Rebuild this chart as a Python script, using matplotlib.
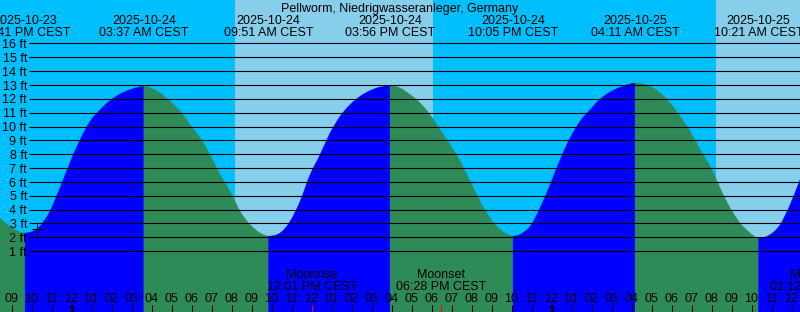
import numpy as np
import matplotlib
matplotlib.use("Agg")
import matplotlib.pyplot as plt
from matplotlib.path import Path
from matplotlib.patches import PathPatch

# tide curve, hours from midnight 2025-10-24 CEST
tide_hours = [-3.58, -3.08, -2.58, -2.32, -1.93, -1.58, -1.08, -0.58, -0.08, 0.43,
              0.93, 1.43, 1.93, 2.43, 2.93, 3.62, 4.43, 4.93, 5.43, 5.93,
              6.43, 6.93, 7.43, 7.93, 8.43, 8.93, 9.43, 9.85, 10.43, 10.93,
              11.43, 11.93, 12.43, 12.93, 13.43, 13.93, 14.43, 14.93, 15.43, 15.93,
              16.43, 16.93, 17.43, 17.93, 18.43, 18.93, 19.43, 19.93, 20.43, 20.93,
              21.43, 21.93, 22.08, 22.43, 22.93, 23.43, 23.93, 24.43, 24.93, 25.43,
              25.93, 26.43, 26.93, 27.43, 27.93, 28.18, 28.93, 29.43, 29.93, 30.43,
              30.93, 31.43, 31.93, 32.43, 32.93, 33.43, 33.93, 34.35, 34.93, 35.43,
              35.93, 36.43]
tide_ft = [3.39, 2.79, 2.38, 2.31, 2.43, 2.79, 3.87, 5.56, 7.36, 9.05,
           10.37, 11.21, 11.87, 12.35, 12.66, 12.90, 12.42, 11.82, 11.10, 10.13,
           9.17, 7.96, 6.52, 5.32, 3.87, 2.91, 2.31, 2.09, 2.31, 3.15,
           4.60, 6.52, 7.96, 9.53, 10.73, 11.58, 12.18, 12.59, 12.85, 12.95,
           12.78, 12.30, 11.70, 10.85, 9.77, 8.69, 7.49, 6.04, 4.60, 3.39,
           2.55, 2.14, 2.09, 2.20, 2.79, 4.12, 5.80, 7.60, 9.17, 10.37,
           11.21, 11.97, 12.49, 12.83, 13.07, 13.14, 12.90, 12.42, 11.70, 10.73,
           9.65, 8.32, 7.13, 5.56, 4.12, 3.03, 2.31, 1.95, 2.19, 2.91,
           4.35, 6.16]

# high / low tides
event_hours = [-2.32, 3.62, 9.85, 15.93, 22.08, 28.18, 34.35]
event_kind = ["low", "high", "low", "high", "low", "high", "low"]
event_dates = ["2025-10-23", "2025-10-24", "2025-10-24", "2025-10-24",
               "2025-10-24", "2025-10-25", "2025-10-25"]
event_times = ["09:41 PM CEST", "03:37 AM CEST", "09:51 AM CEST", "03:56 PM CEST",
               "10:05 PM CEST", "04:11 AM CEST", "10:21 AM CEST"]

# daylight
sunrise_hours = [8.17, 32.23]
sunset_hours = [18.06, 42.0]

# moon
moon_hours = [12.02, 18.47, 37.2]
moon_names = ["Moonrise", "Moonset", "Moonrise"]
moon_times = ["12:01 PM CEST", "06:28 PM CEST", "01:12 PM CEST"]

now_hour, now_ft = -1.71, 2.6
feet = list(range(1, 17))
hours = list(range(-3, 37))
title = "Pellworm, Niedrigwasseranleger, Germany"

NIGHT = "#00bfff"
DAY = "#87ceeb"
FLOOD = "#0000ff"
EBB = "#2e8b57"

# pixel layout of the original (800x312)
X0, PXH = 71.5, 20.0
Y0, PXF = 265.0, 13.85


def xd(px):
    return (px - X0) / PXH


def yd(py):
    return (Y0 - py) / PXF


def smooth_fill(t, h, base):
    # hermite curve through the read points, flat at highs and lows
    n = len(t)
    m = np.zeros(n)
    for i in range(n):
        a, b = max(i - 1, 0), min(i + 1, n - 1)
        m[i] = (h[b] - h[a]) / (t[b] - t[a])
    for et in event_hours:
        m[np.isclose(t, et)] = 0.0
    verts = [(t[0], base), (t[0], h[0])]
    codes = [Path.MOVETO, Path.LINETO]
    for i in range(n - 1):
        dt = t[i + 1] - t[i]
        verts += [(t[i] + dt / 3, h[i] + m[i] * dt / 3),
                  (t[i + 1] - dt / 3, h[i + 1] - m[i + 1] * dt / 3),
                  (t[i + 1], h[i + 1])]
        codes += [Path.CURVE4] * 3
    verts += [(t[-1], base), (t[0], base)]
    codes += [Path.LINETO, Path.CLOSEPOLY]
    return Path(verts, codes)


plt.rcParams["font.family"] = ["Liberation Sans", "DejaVu Sans"]
plt.rcParams["font.size"] = 9

fig = plt.figure(figsize=(8, 3.12), dpi=100)
fig.patch.set_facecolor(NIGHT)
ax = fig.add_axes([0, 0, 1, 1])
ax.set_xlim(xd(0), xd(800))
ax.set_ylim(yd(312), yd(0))
ax.axis("off")

for a, b in zip(sunrise_hours, sunset_hours):
    ax.axvspan(a, b, color=DAY, lw=0, zorder=0)

t = np.array(tide_hours)
h = np.array(tide_ft)
bounds = [t[0]] + event_hours + [t[-1]]
for i in range(len(bounds) - 1):
    a, b = bounds[i], bounds[i + 1]
    sel = (t >= a - 1e-9) & (t <= b + 1e-9)
    if i < len(event_kind):
        rising = event_kind[i] == "high"
    else:
        rising = event_kind[-1] == "low"
    c = FLOOD if rising else EBB
    ax.add_patch(PathPatch(smooth_fill(t[sel], h[sel], yd(330)),
                           fc=c, ec=c, lw=0.3, zorder=1))

ax.hlines(feet, xd(29), xd(800), color="black", lw=0.8, zorder=2)
for f in feet:
    ax.text(xd(27), f - 4.7 / PXF, f"{f} ft", ha="right", va="baseline", zorder=3)

ax.plot([now_hour], [now_ft], marker="+", color="black", ms=7, mew=0.8, zorder=3)

ax.text(xd(400), yd(11.7), title, ha="center", va="baseline", zorder=3)
for et, d, tm in zip(event_hours, event_dates, event_times):
    ax.text(et, yd(24), d, ha="center", va="baseline", zorder=3)
    ax.text(et, yd(36), tm, ha="center", va="baseline", zorder=3)

for mt, name, tm in zip(moon_hours, moon_names, moon_times):
    ax.text(mt, yd(278.3), name, ha="center", va="baseline", zorder=3)
    ax.text(mt, yd(290), tm, ha="center", va="baseline", zorder=3)

for hr in hours:
    lab = hr % 12 or 12
    ax.text(hr, yd(302.3), f"{lab:02d}", ha="center", va="baseline", zorder=3)
    ax.vlines(hr, yd(305), yd(312), color="black",
              lw=2.2 if hr % 24 == 0 else 0.8, zorder=3)
ax.vlines(moon_hours, yd(305), yd(312), color="red", lw=0.8, zorder=4)

fig.savefig("out.png", dpi=100, facecolor=NIGHT)
